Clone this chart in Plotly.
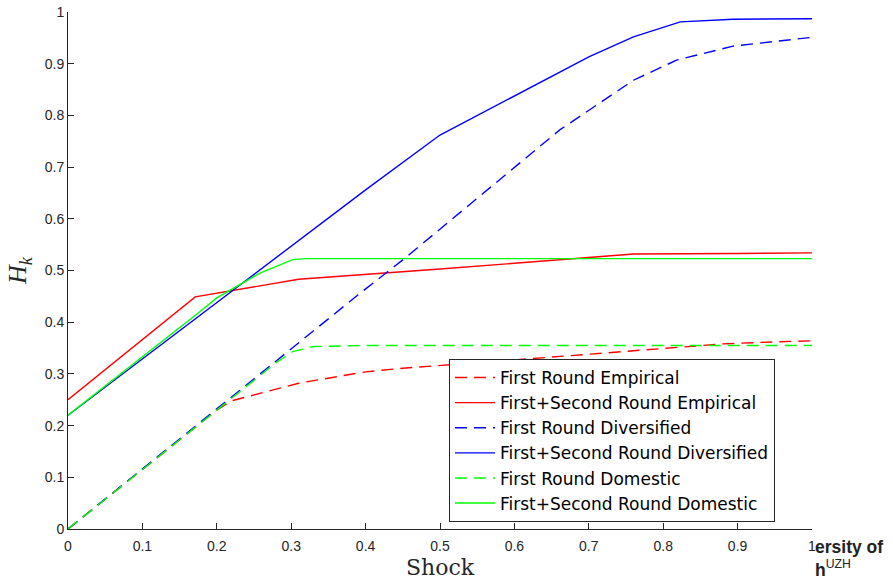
import plotly.graph_objects as go

# ---- data ----
x_fr_emp = [0, 0.1, 0.2, 0.22, 0.31, 0.4, 0.45, 0.6, 0.7, 0.8, 0.88, 0.95, 1.0]
y_fr_emp = [0, 0.115, 0.23, 0.248, 0.282, 0.304, 0.311, 0.327, 0.338, 0.350, 0.358, 0.362, 0.364]

x_fs_emp = [0, 0.171, 0.31, 0.4, 0.5, 0.6, 0.7, 0.76, 0.9, 1.0]
y_fs_emp = [0.25, 0.449, 0.483, 0.492, 0.503, 0.514, 0.525, 0.532, 0.533, 0.534]

x_fr_div = [0, 0.1, 0.2, 0.3, 0.39, 0.453, 0.563, 0.661, 0.76, 0.818, 0.894, 1.0]
y_fr_div = [0, 0.116, 0.232, 0.348, 0.453, 0.524, 0.656, 0.772, 0.868, 0.907, 0.934, 0.951]

x_fs_div = [0, 0.1, 0.2, 0.312, 0.4, 0.5, 0.55, 0.6, 0.7, 0.76, 0.823, 0.894, 1.0]
y_fs_div = [0.22, 0.329, 0.437, 0.559, 0.656, 0.762, 0.80, 0.838, 0.913, 0.952, 0.981, 0.986, 0.987]

x_fr_dom = [0, 0.1, 0.2, 0.28, 0.302, 0.33, 0.4, 1.0]
y_fr_dom = [0, 0.115, 0.23, 0.322, 0.343, 0.353, 0.355, 0.355]

x_fs_dom = [0, 0.1, 0.17, 0.2, 0.258, 0.302, 0.32, 1.0]
y_fs_dom = [0.22, 0.332, 0.412, 0.447, 0.495, 0.521, 0.523, 0.523]

x_ticks = [0, 0.1, 0.2, 0.3, 0.4, 0.5, 0.6, 0.7, 0.8, 0.9, 1]
x_tick_labels = ["0", "0.1", "0.2", "0.3", "0.4", "0.5", "0.6", "0.7", "0.8", "0.9", "1"]
y_ticks = [0, 0.1, 0.2, 0.3, 0.4, 0.5, 0.6, 0.7, 0.8, 0.9, 1]
y_tick_labels = ["0", "0.1", "0.2", "0.3", "0.4", "0.5", "0.6", "0.7", "0.8", "0.9", "1"]

series = [
    ("First Round Empirical", x_fr_emp, y_fr_emp, "#ff0000", "12px,7px"),
    ("First+Second Round Empirical", x_fs_emp, y_fs_emp, "#ff0000", "solid"),
    ("First Round Diversified", x_fr_div, y_fr_div, "#0000ff", "12px,7px"),
    ("First+Second Round Diversified", x_fs_div, y_fs_div, "#0000ff", "solid"),
    ("First Round Domestic", x_fr_dom, y_fr_dom, "#00ff00", "12px,7px"),
    ("First+Second Round Domestic", x_fs_dom, y_fs_dom, "#00ff00", "solid"),
]

fig = go.Figure()
for name, xs, ys, col, dash in series:
    fig.add_trace(go.Scatter(x=xs, y=ys, mode="lines", name=name,
                             line=dict(color=col, width=1.4, dash=dash)))

axis_col = "#262626"
fig.update_layout(
    width=893, height=580,
    margin=dict(l=68, r=81, t=12, b=51, autoexpand=False),
    paper_bgcolor="white", plot_bgcolor="white",
    font=dict(family="Liberation Sans, Arial", size=14, color=axis_col),
    showlegend=True,
    legend=dict(
        x=(449 - 68) / 744, y=(529 - 359) / 517, xanchor="left", yanchor="top",
        bgcolor="white", bordercolor=axis_col, borderwidth=1,
        font=dict(family="DejaVu Sans", size=17, color="black"),
        tracegroupgap=0, itemwidth=40,
    ),
    xaxis=dict(
        range=[0, 1], tickvals=x_ticks, ticktext=x_tick_labels, automargin=False,
        showgrid=False, zeroline=False, showline=True, linecolor=axis_col, linewidth=1,
        ticks="inside", ticklen=6, tickcolor=axis_col, ticklabelstandoff=4,
        tickfont=dict(size=14, color=axis_col),
        title=dict(text="Shock", font=dict(family="DejaVu Serif, Liberation Serif", size=22, color=axis_col), standoff=12),
    ),
    yaxis=dict(
        range=[0, 1], tickvals=y_ticks, ticktext=y_tick_labels, automargin=False,
        showgrid=False, zeroline=False, showline=True, linecolor=axis_col, linewidth=1,
        ticks="inside", ticklen=6, tickcolor=axis_col,
        tickfont=dict(size=14, color=axis_col),
        title=dict(text="<i>H<sub>k</sub></i>", font=dict(family="Liberation Serif, DejaVu Serif", size=26, color=axis_col), standoff=10),
    ),
)

# clipped logo text at bottom right
fig.add_annotation(text="<b>ersity of</b><br><b>h</b><sup>UZH</sup>", xref="paper", yref="paper",
                   x=(813 - 68) / 744, y=-(535 - 529) / 517, xanchor="left", yanchor="top",
                   align="left", showarrow=False,
                   font=dict(family="Liberation Sans, Arial", size=17.5, color="#222222"))

fig.write_html("out.html")
